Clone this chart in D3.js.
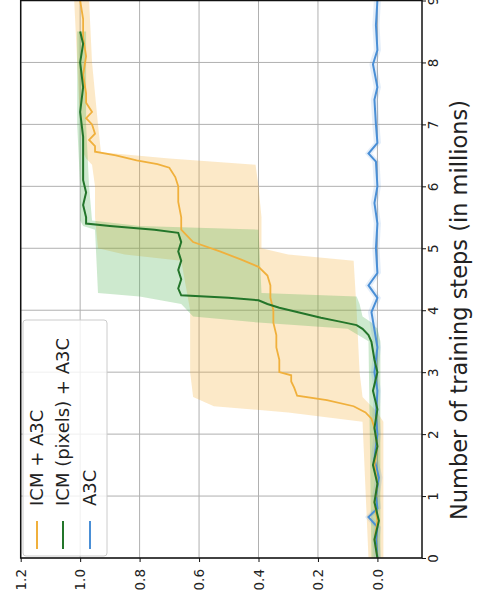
<!DOCTYPE html>
<html>
<head>
<meta charset="UTF-8">
<title>training curves</title>
<script src="https://d3js.org/d3.v7.min.js"></script>
<style>
  html, body { margin: 0; padding: 0; background: #fff; }
  svg { display: block; }
</style>
</head>
<body>
<svg id="chart" width="477" height="605"></svg>
<script>
// data (steps in millions, mean reward and band)
const stepTicks = [0, 1, 2, 3, 4, 5, 6, 7, 8, 9];
const valueTicks = [0.0, 0.2, 0.4, 0.6, 0.8, 1.0, 1.2];
const legendLabels = ["ICM + A3C", "ICM (pixels) + A3C", "A3C"];

const icmSteps = [0, 0.3, 0.6, 0.9, 1.2, 1.5, 1.8, 2.1, 2.25, 2.35, 2.45, 2.55, 2.62, 2.75, 2.85, 2.95, 3.0, 3.2, 3.4, 3.6, 3.8, 4.0, 4.2, 4.4, 4.56, 4.7, 4.82, 4.95, 5.1, 5.2, 5.3, 5.5, 5.75, 6.0, 6.15, 6.3, 6.36, 6.42, 6.5, 6.56, 6.65, 6.75, 6.85, 7.0, 7.1, 7.2, 7.35, 7.5, 7.8, 8.1, 8.4, 8.7, 9.0];
const icmMean  = [0.0, 0.01, 0.0, 0.01, 0.0, 0.01, 0.0, 0.01, 0.02, 0.04, 0.08, 0.17, 0.27, 0.28, 0.29, 0.29, 0.33, 0.33, 0.34, 0.34, 0.35, 0.35, 0.36, 0.36, 0.37, 0.40, 0.46, 0.53, 0.62, 0.64, 0.66, 0.66, 0.67, 0.67, 0.68, 0.70, 0.74, 0.81, 0.88, 0.95, 0.95, 0.97, 0.95, 0.96, 0.98, 0.96, 0.98, 0.98, 0.99, 0.98, 0.99, 0.99, 1.0];
const icmBandSteps = [0, 2.2, 2.35, 2.45, 2.6, 3.0, 4.0, 4.8, 4.9, 5.0, 5.5, 6.0, 6.35, 6.45, 6.55, 7.0, 8.0, 9.0];
const icmLo = [-0.02, -0.02, 0.0, 0.02, 0.05, 0.06, 0.07, 0.08, 0.30, 0.39, 0.39, 0.40, 0.41, 0.70, 0.93, 0.94, 0.96, 0.97];
const icmHi = [0.03, 0.05, 0.30, 0.55, 0.62, 0.63, 0.63, 0.66, 0.85, 0.94, 0.95, 0.95, 0.96, 0.98, 0.99, 1.0, 1.01, 1.02];

const pixSteps = [0, 0.3, 0.6, 0.9, 1.2, 1.5, 1.8, 2.1, 2.4, 2.7, 3.0, 3.2, 3.49, 3.6, 3.7, 3.76, 3.82, 3.88, 3.96, 4.04, 4.1, 4.16, 4.2, 4.24, 4.35, 4.5, 4.65, 4.8, 4.95, 5.1, 5.25, 5.3, 5.36, 5.4, 5.5, 5.7, 5.9, 6.1, 6.4, 6.8, 7.2, 7.6, 8.0, 8.3, 8.5];
const pixMean  = [0.0, 0.01, -0.005, 0.01, 0.0, 0.015, 0.0, 0.01, 0.0, 0.015, 0.0, 0.01, 0.02, 0.03, 0.05, 0.07, 0.13, 0.19, 0.26, 0.33, 0.37, 0.40, 0.50, 0.66, 0.67, 0.66, 0.67, 0.66, 0.67, 0.66, 0.67, 0.75, 0.90, 0.98, 0.98, 0.99, 0.98, 0.99, 0.99, 0.99, 1.0, 0.99, 1.0, 0.99, 1.0];
const pixBandSteps = [0, 3.5, 3.7, 3.8, 3.9, 4.1, 4.22, 4.28, 5.3, 5.36, 5.45, 6.0, 7.0, 8.5];
const pixLo = [-0.01, -0.01, 0.0, 0.02, 0.05, 0.06, 0.07, 0.39, 0.40, 0.80, 0.96, 0.97, 0.98, 0.98];
const pixHi = [0.02, 0.03, 0.10, 0.40, 0.62, 0.66, 0.80, 0.94, 0.95, 0.99, 1.0, 1.0, 1.01, 1.01];

const a3cSteps = [0, 0.3, 0.5, 0.66, 0.8, 1.0, 1.3, 1.6, 2.0, 2.3, 2.7, 3.0, 3.4, 3.97, 4.2, 4.4, 4.6, 5.0, 5.4, 5.73, 6.0, 6.4, 6.53, 6.7, 7.0, 7.4, 7.6, 7.97, 8.2, 8.6, 9.0];
const a3cMean  = [0.0, 0.005, 0.0, 0.03, 0.0, 0.005, -0.005, 0.01, 0.0, 0.005, 0.0, 0.01, 0.0, 0.02, 0.0, 0.03, 0.0, 0.005, 0.0, 0.01, 0.0, 0.005, 0.03, 0.0, 0.005, 0.01, 0.0, 0.015, 0.0, 0.005, 0.0];

const svg = d3.select("#chart");
const pLeft = 20.7, pRight = 422, pTop = 0.5, pBottom = 558;

// steps run up the right side, values run right to left
const sy = d3.scaleLinear().domain([0, 9]).range([pBottom, pTop]);
const sx = d3.scaleLinear().domain([-0.15, 1.2]).range([pRight, pLeft]);

svg.append("defs").append("clipPath").attr("id", "plot")
  .append("rect").attr("x", pLeft).attr("y", pTop)
  .attr("width", pRight - pLeft).attr("height", pBottom - pTop);

// grid
const grid = svg.append("g").attr("stroke", "#b0b0b0").attr("stroke-width", 1);
grid.selectAll(".gs").data(stepTicks).enter().append("line")
  .attr("x1", pLeft).attr("x2", pRight)
  .attr("y1", d => sy(d)).attr("y2", d => sy(d));
grid.selectAll(".gv").data(valueTicks).enter().append("line")
  .attr("y1", pTop).attr("y2", pBottom)
  .attr("x1", d => sx(d)).attr("x2", d => sx(d));

const zip3 = (s, a, b) => s.map((d, i) => ({s: d, lo: a[i], hi: b[i]}));
const zip2 = (s, a) => s.map((d, i) => ({s: d, v: a[i]}));

const area = d3.area().y(d => sy(d.s)).x0(d => sx(d.lo)).x1(d => sx(d.hi));
const line = d3.line().x(d => sx(d.v)).y(d => sy(d.s));

const plot = svg.append("g").attr("clip-path", "url(#plot)");

plot.append("path").datum(zip3(icmBandSteps, icmLo, icmHi))
  .attr("d", area).attr("fill", "#f5a623").attr("fill-opacity", 0.25);
plot.append("path").datum(zip3(pixBandSteps, pixLo, pixHi))
  .attr("d", area).attr("fill", "#4caf50").attr("fill-opacity", 0.28);
plot.append("path").datum(zip3(a3cSteps, a3cMean.map(v => v - 0.012), a3cMean.map(v => v + 0.012)))
  .attr("d", area).attr("fill", "#4a8fd6").attr("fill-opacity", 0.15);

plot.append("path").datum(zip2(a3cSteps, a3cMean))
  .attr("d", line).attr("fill", "none").attr("stroke", "#4a8fd6").attr("stroke-width", 2);
plot.append("path").datum(zip2(icmSteps, icmMean))
  .attr("d", line).attr("fill", "none").attr("stroke", "#f0b03c").attr("stroke-width", 1.8);
plot.append("path").datum(zip2(pixSteps, pixMean))
  .attr("d", line).attr("fill", "none").attr("stroke", "#23752a").attr("stroke-width", 2);

// frame
svg.append("rect").attr("x", pLeft).attr("y", pTop)
  .attr("width", pRight - pLeft).attr("height", pBottom - pTop)
  .attr("fill", "none").attr("stroke", "#111").attr("stroke-width", 1.5);

// legend
const colors = ["#f0b03c", "#23752a", "#4a8fd6"];
const leg = svg.append("g");
leg.append("rect").attr("x", 23).attr("y", 320).attr("width", 84).attr("height", 236)
  .attr("rx", 3).attr("fill", "#fff").attr("fill-opacity", 0.8)
  .attr("stroke", "#cccccc").attr("stroke-width", 1);
const legX = [37, 63, 90];
legendLabels.forEach((lab, i) => {
  leg.append("line").attr("x1", legX[i]).attr("x2", legX[i])
    .attr("y1", 549).attr("y2", 521)
    .attr("stroke", colors[i]).attr("stroke-width", 2);
  leg.append("text").text(lab)
    .attr("transform", `translate(${legX[i]},506) rotate(-90)`)
    .attr("dy", "0.35em").attr("text-anchor", "start")
    .attr("font-family", "DejaVu Sans").attr("font-size", 18).attr("fill", "#222");
});

// step axis on the right
const axR = svg.append("g").attr("transform", `translate(${pRight},0)`)
  .call(d3.axisRight(sy).tickValues(stepTicks).tickSize(4).tickFormat(d3.format("d")));
axR.select(".domain").remove();
axR.selectAll("line").attr("stroke", "#111");
axR.selectAll("text")
  .attr("x", 0).attr("y", 0).attr("dy", "0.35em")
  .attr("transform", "translate(11,0) rotate(-90)")
  .attr("text-anchor", "middle")
  .attr("font-family", "DejaVu Sans").attr("font-size", 13.5).attr("fill", "#222");

// value axis at the bottom
const axB = svg.append("g").attr("transform", `translate(0,${pBottom})`)
  .call(d3.axisBottom(sx).tickValues(valueTicks).tickSize(4).tickFormat(d3.format(".1f")));
axB.select(".domain").remove();
axB.selectAll("line").attr("stroke", "#111");
axB.selectAll("text")
  .attr("x", 0).attr("y", 0).attr("dy", "0.35em")
  .attr("transform", "translate(0,11) rotate(-90)")
  .attr("text-anchor", "end")
  .attr("font-family", "DejaVu Sans").attr("font-size", 13.5).attr("fill", "#222");

// axis title
svg.append("text").text("Number of training steps (in millions)")
  .attr("transform", "translate(459,310) rotate(-90)")
  .attr("dy", "0.35em").attr("text-anchor", "middle")
  .attr("font-family", "DejaVu Sans").attr("font-size", 22.5).attr("fill", "#222");
</script>
</body>
</html>
